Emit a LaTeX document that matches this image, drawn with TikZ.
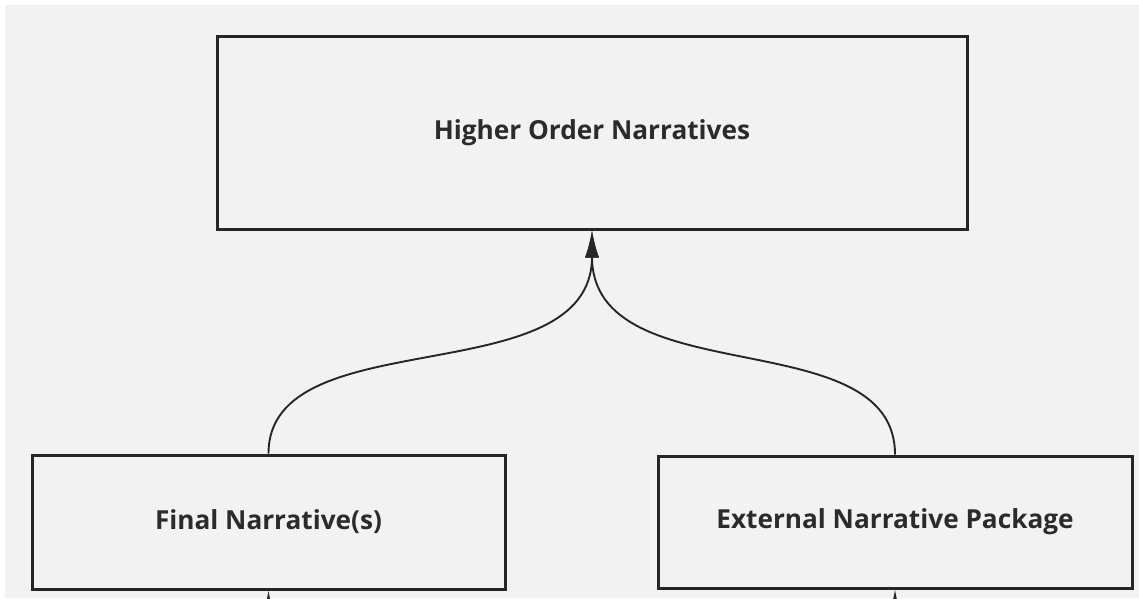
\documentclass[tikz,border=0pt]{standalone}
\usepackage{fontspec}
\setmainfont{Open Sans}
\usetikzlibrary{arrows.meta}
\definecolor{canvas}{HTML}{F2F2F2}
\definecolor{ink}{HTML}{262626}
\definecolor{txt}{HTML}{2B2B2B}
\begin{document}
\begin{tikzpicture}[x=1pt,y=-1pt,
  box/.style={draw=ink, line width=3pt, fill=canvas, inner sep=0pt,
    font=\bfseries\fontsize{26.2}{31}\selectfont, text=txt},
  link/.style={draw=ink, line width=1.9pt, -{Latex[length=27pt,width=14pt]}}]
\clip (0,0) rectangle (1139,598);
\fill[white] (0,0) rectangle (1139,598);
\fill[canvas] (5,5) rectangle (1139,598);

% boxes
\node[box, minimum width=750pt, minimum height=193pt] (hon) at (592,132.5) {Higher Order Narratives};
\node[box, minimum width=473pt, minimum height=134pt] (fin) at (268.5,522) {Final Narrative(s)};
\node[box, minimum width=474pt, minimum height=132pt] (ext) at (895,522) {External Narrative Package};

% incoming links from below
\coordinate (finin) at (268.5,650);
\coordinate (extin) at (895,650);
\draw[link] (finin) -- (fin.south);
\draw[link] (extin) -- (ext.south);

% curved links to the top box
\draw[link] (fin.north) .. controls +(0,-135) and +(0,165) .. (hon.south);
\draw[link] (ext.north) .. controls +(0,-135) and +(0,165) .. (hon.south);
\end{tikzpicture}
\end{document}
